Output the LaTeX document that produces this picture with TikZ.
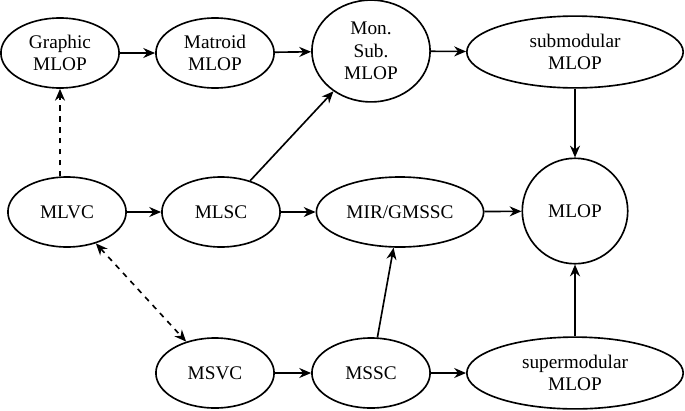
\documentclass[tikz,border=0pt]{standalone}
\usepackage{fontspec}
\setmainfont{Liberation Serif}
\usetikzlibrary{shapes.geometric,arrows.meta}
\begin{document}
\begin{tikzpicture}[x=0.55pt,y=-0.55pt,line width=0.9pt,>={Stealth[length=6.5pt,width=5.5pt]},
    font=\rmfamily\fontsize{10.6}{12.4}\selectfont,
    oval/.style={draw,ellipse,align=center,minimum width=65pt,minimum height=38.5pt,inner sep=0pt},
    longoval/.style={oval,minimum width=119pt,minimum height=39.5pt},
    roundnode/.style={draw,circle,align=center,minimum size=58pt,inner sep=0pt}]
        \useasboundingbox (0,0) rectangle (685,410);
        %% top row
        \node[oval] (GM) at (60,53) {Graphic\\MLOP};
        \node[oval] (MM) at (215,53) {Matroid\\MLOP};
        \node[oval,minimum width=65pt,minimum height=56pt] (MS) at (371,51) {Mon.\\Sub.\\MLOP};
        \node[longoval] (SM) at (575,52) {submodular\\MLOP};
        %% middle row
        \node[oval] (LV) at (67,212) {MLVC};
        \node[oval] (LS) at (221,212) {MLSC};
        \node[oval,minimum width=92pt] (MIR) at (400,212) {MIR/GMSSC};
        \node[roundnode] (OP) at (575,211) {MLOP};
        %% bottom row
        \node[oval] (SV) at (215,373) {MSVC};
        \node[oval] (SS) at (371,373) {MSSC};
        \node[longoval] (PM) at (575,373) {supermodular\\MLOP};
        %% arrows
        \draw[->] (GM) -- (MM);
        \draw[->] (MM) -- (MS);
        \draw[->] (MS) -- (SM);
        \draw[->] (SM) -- (OP);
        \draw[->] (LV) -- (LS);
        \draw[->] (LS) -- (MIR);
        \draw[->] (MIR) -- (OP);
        \draw[->] (LS) -- (MS);
        \draw[->] (SV) -- (SS);
        \draw[->] (SS) -- (PM);
        \draw[->] (SS) -- (MIR);
        \draw[->] (PM) -- (OP);
        %% dashed
        \draw[->,dashed] (GM.south |- LV.north) -- (GM.south);
        \draw[<->,dashed] (LV) -- (SV);
    \end{tikzpicture}
\end{document}
